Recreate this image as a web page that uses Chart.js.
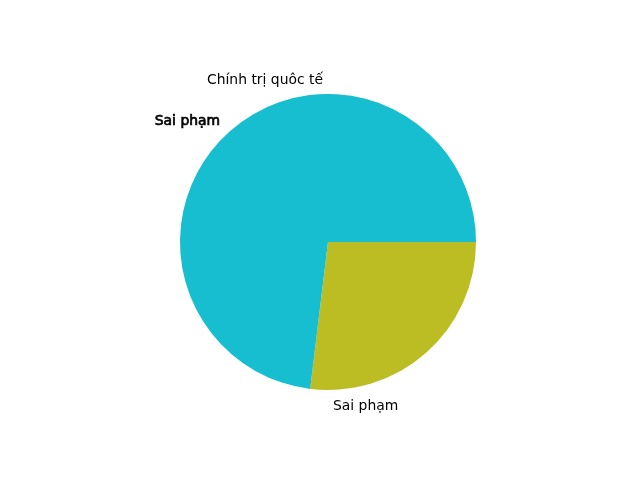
<!DOCTYPE html>
<html>
<head>
<meta charset="utf-8">
<script src="https://cdn.jsdelivr.net/npm/chart.js@4/dist/chart.umd.min.js"></script>
<style>
  html, body { margin: 0; padding: 0; background: #fff; }
  #wrap { width: 640px; height: 480px; }
</style>
</head>
<body>
<div id="wrap"><canvas id="pieChart" width="640" height="480"></canvas></div>
<script>
// pie drawn first (hidden underneath, only its labels show)
const baseLabels = ['Chính trị quôc tế', 'Sai phạm'];
const baseValues = [26, 25];

// visible pie, counter-clockwise from 3 o'clock (matplotlib order)
const topLabels = ['Sai phạm', ''];
const topValues = [19, 7];
const topColors = ['#17becf', '#bcbd22'];

const FONT = '13.9px "DejaVu Sans"';

// draw labels at 1.1 * radius, mid angle of each wedge
function drawPieLabels(ctx, cx, cy, r, labels, values, heavy) {
  const total = values.reduce((a, b) => a + b, 0);
  let start = 0;
  ctx.save();
  ctx.font = FONT;
  ctx.fillStyle = '#000';
  ctx.strokeStyle = '#000';
  ctx.lineWidth = 0.7;
  ctx.textBaseline = 'middle';
  values.forEach((v, i) => {
    const frac = v / total;
    const mid = (start + frac / 2) * 2 * Math.PI;
    start += frac;
    if (!labels[i]) return;
    const x = cx + 1.1 * r * Math.cos(mid);
    const y = cy - 1.1 * r * Math.sin(mid) + 1.5;
    ctx.textAlign = x < cx ? 'right' : 'left';
    ctx.fillText(labels[i], x, y);
    if (heavy) ctx.strokeText(labels[i], x, y);
  });
  ctx.restore();
}

const labelPlugin = {
  id: 'pieLabels',
  afterDatasetsDraw(chart) {
    const arc = chart.getDatasetMeta(0).data[0];
    if (!arc) return;
    const { x, y, outerRadius } = arc.getProps(['x', 'y', 'outerRadius'], true);
    drawPieLabels(chart.ctx, x, y, outerRadius, baseLabels, baseValues, false);
    // the top pie was drawn several times -> its label looks heavier
    drawPieLabels(chart.ctx, x, y, outerRadius, topLabels, topValues, true);
  }
};

// Chart.js goes clockwise, so reverse to get matplotlib's counter-clockwise order
new Chart(document.getElementById('pieChart'), {
  type: 'pie',
  data: {
    labels: [...topLabels].reverse(),
    datasets: [{
      data: [...topValues].reverse(),
      backgroundColor: [...topColors].reverse(),
      borderWidth: 0
    }]
  },
  options: {
    responsive: false,
    animation: false,
    rotation: 90,
    layout: { padding: { top: 94, bottom: 90, left: 180, right: 164 } },
    plugins: {
      legend: { display: false },
      tooltip: { enabled: false }
    }
  },
  plugins: [labelPlugin]
});
</script>
</body>
</html>
